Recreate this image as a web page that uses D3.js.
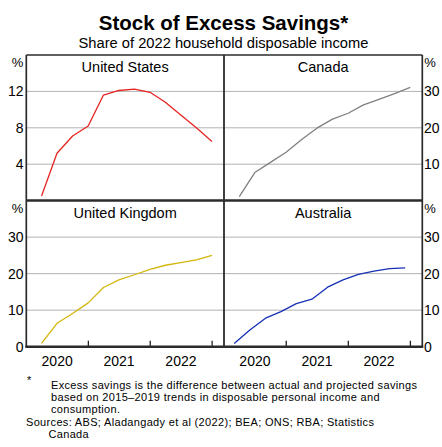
<!DOCTYPE html>
<html>
<head>
<meta charset="utf-8">
<script src="https://cdn.jsdelivr.net/npm/d3@7"></script>
<style>
  html, body { margin: 0; padding: 0; background: #fff; }
  svg { display: block; font-family: "Liberation Sans", Arial, sans-serif; }
</style>
</head>
<body>
<svg id="chart" width="442" height="447"></svg>
<script>
// Quarterly observations (end of quarter) for US, Canada and UK
const quarterDates = ["2020-03-31","2020-06-30","2020-09-30","2020-12-31",
                      "2021-03-31","2021-06-30","2021-09-30","2021-12-31",
                      "2022-03-31","2022-06-30","2022-09-30","2022-12-31"];
// Australian series is dated at the first day of each quarter's end month
const ausDates = ["2020-03-01","2020-06-01","2020-09-01","2020-12-01",
                  "2021-03-01","2021-06-01","2021-09-01","2021-12-01",
                  "2022-03-01","2022-06-01","2022-09-01","2022-12-01"];

const usValues  = [0.5, 5.2, 7.1, 8.2, 11.6, 12.1, 12.25, 11.9, 10.8, 9.4, 8.0, 6.5];
const caValues  = [1.1, 7.7, 10.5, 13.3, 16.7, 19.9, 22.4, 24.0, 26.3, 27.8, 29.4, 31.1];
const ukValues  = [0.9, 6.4, 9.1, 12.0, 16.2, 18.3, 19.7, 21.2, 22.3, 23.0, 23.8, 25.0];
const ausValues = [0.9, 4.6, 7.8, 9.6, 11.8, 13.0, 16.3, 18.3, 19.8, 20.7, 21.4, 21.6];

const usTicks = [4, 8, 12];
const caTicks = [10, 20, 30];
const bottomTicks = [0, 10, 20, 30];
const yearLabels = ["2020", "2021", "2022"];

const svg = d3.select("#chart");
const parse = d3.timeParse("%Y-%m-%d");

// Panel geometry
const xL0 = 26.3, xM = 224, xR1 = 422.3;
const yT0 = 55, yM = 200.6, yB1 = 346.7;

const timeDomain = [new Date(2020, 0, 1), new Date(2023, 2, 12)];
const xLeft = d3.scaleTime().domain(timeDomain).range([xL0, xM]);
const xRight = d3.scaleTime().domain(timeDomain).range([xM, xR1]);

const yUS = d3.scaleLinear().domain([0, 16]).range([yM, yT0]);
const yCA = d3.scaleLinear().domain([0, 40]).range([yM, yT0]);
const yBot = d3.scaleLinear().domain([0, 40]).range([yB1, yM]);

const panels = [
  { name: "United States",  x: xLeft,  y: yUS,  dates: quarterDates, values: usValues,  color: "#e52521", ticks: usTicks },
  { name: "Canada",         x: xRight, y: yCA,  dates: quarterDates, values: caValues,  color: "#808080", ticks: caTicks },
  { name: "United Kingdom", x: xLeft,  y: yBot, dates: quarterDates, values: ukValues,  color: "#d4b60c", ticks: bottomTicks },
  { name: "Australia",      x: xRight, y: yBot, dates: ausDates,     values: ausValues, color: "#1530b5", ticks: bottomTicks }
];

// Title and subtitle
svg.append("text").attr("x", 223.5).attr("y", 30)
  .attr("text-anchor", "middle").attr("font-size", 20.5).attr("font-weight", "bold")
  .attr("fill", "#000").text("Stock of Excess Savings*");
svg.append("text").attr("x", 223.5).attr("y", 48)
  .attr("text-anchor", "middle").attr("font-size", 14.7)
  .attr("fill", "#000").text("Share of 2022 household disposable income");

// Gridlines
panels.forEach(p => {
  const [x0, x1] = p.x.range();
  svg.append("g").selectAll("line")
    .data(p.ticks.filter(t => t > 0))
    .join("line")
    .attr("x1", x0).attr("x2", x1)
    .attr("y1", d => p.y(d)).attr("y2", d => p.y(d))
    .attr("stroke", "#b3b3b3").attr("stroke-width", 1);
});

// Series lines
panels.forEach(p => {
  const pts = p.dates.map((d, i) => ({ date: parse(d), value: p.values[i] }));
  const line = d3.line().x(d => p.x(d.date)).y(d => p.y(d.value));
  svg.append("path").datum(pts)
    .attr("d", line)
    .attr("fill", "none")
    .attr("stroke", p.color)
    .attr("stroke-width", 1.3)
    .attr("stroke-linejoin", "round");
});

// Panel titles
panels.forEach(p => {
  const [x0, x1] = p.x.range();
  const top = p.y.range()[1];
  svg.append("text").attr("x", (x0 + x1) / 2).attr("y", top + 17)
    .attr("text-anchor", "middle").attr("font-size", 14.5)
    .attr("fill", "#000").text(p.name);
});

// Year tick marks on the bottom axis (at year boundaries), pointing inward
const boundaries = [new Date(2021, 0, 1), new Date(2022, 0, 1), new Date(2023, 0, 1)];
[xLeft, xRight].forEach(xs => {
  svg.append("g").selectAll("line").data(boundaries).join("line")
    .attr("x1", d => xs(d)).attr("x2", d => xs(d))
    .attr("y1", yB1 - 6).attr("y2", yB1)
    .attr("stroke", "#222").attr("stroke-width", 1.3);
  svg.append("g").selectAll("text").data(yearLabels).join("text")
    .attr("x", d => xs(new Date(+d, 6, 1)))
    .attr("y", 366)
    .attr("text-anchor", "middle").attr("font-size", 14)
    .attr("fill", "#000").text(d => d);
});

// Frame
const frame = svg.append("g").attr("stroke", "#2b2b2b").attr("fill", "none");
frame.append("line").attr("x1", xL0).attr("x2", xR1).attr("y1", yT0).attr("y2", yT0).attr("stroke-width", 1.5);
frame.append("line").attr("x1", xL0).attr("x2", xL0).attr("y1", yT0).attr("y2", yB1).attr("stroke-width", 1.7);
frame.append("line").attr("x1", xR1).attr("x2", xR1).attr("y1", yT0).attr("y2", yB1).attr("stroke-width", 1.7);
frame.append("line").attr("x1", xM).attr("x2", xM).attr("y1", yT0).attr("y2", yB1).attr("stroke-width", 1.8);
frame.append("line").attr("x1", xL0).attr("x2", xR1).attr("y1", yM).attr("y2", yM).attr("stroke-width", 2.5);
frame.append("line").attr("x1", xL0 - 1).attr("x2", xR1 + 1).attr("y1", yB1).attr("y2", yB1).attr("stroke-width", 2.5);

// Value axes labels
function leftLabels(scale, ticks) {
  svg.append("g").selectAll("text").data(ticks).join("text")
    .attr("x", 23.5).attr("y", d => scale(d)).attr("dy", "0.36em")
    .attr("text-anchor", "end").attr("font-size", 14).attr("fill", "#000")
    .text(d => d);
}
function rightLabels(scale, ticks) {
  svg.append("g").selectAll("text").data(ticks).join("text")
    .attr("x", 424).attr("y", d => scale(d)).attr("dy", "0.36em")
    .attr("text-anchor", "start").attr("font-size", 14).attr("fill", "#000")
    .text(d => d);
}
leftLabels(yUS, usTicks);
rightLabels(yCA, caTicks);
leftLabels(yBot, bottomTicks);
rightLabels(yBot, bottomTicks);

// Unit markers
[[17.5, 67], [430, 67], [17.5, 213], [430, 213]].forEach(([x, y]) => {
  svg.append("text").attr("x", x).attr("y", y)
    .attr("text-anchor", "middle").attr("font-size", 13).attr("fill", "#000").text("%");
});

// Notes
const notes = svg.append("g").attr("font-size", 11).attr("letter-spacing", 0.33).attr("fill", "#000");
notes.append("text").attr("x", 27).attr("y", 384).text("*");
["Excess savings is the difference between actual and projected savings",
 "based on 2015\u20132019 trends in disposable personal income and",
 "consumption."].forEach((t, i) => {
  notes.append("text").attr("x", 51).attr("y", 388.5 + i * 12.3).text(t);
});
notes.append("text").attr("x", 26).attr("y", 425.6)
  .text("Sources: ABS; Aladangady et al (2022); BEA; ONS; RBA; Statistics");
notes.append("text").attr("x", 48.5).attr("y", 438).text("Canada");
</script>
</body>
</html>
